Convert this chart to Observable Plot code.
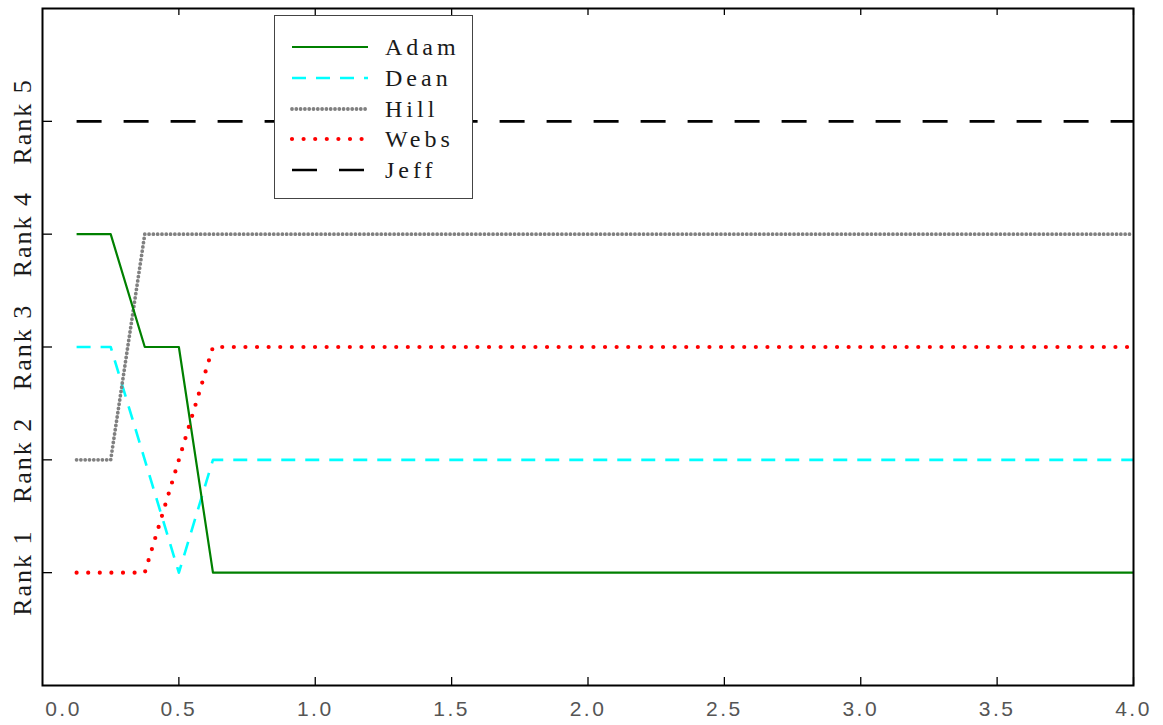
<!DOCTYPE html>
<html>
<head>
<meta charset="utf-8">
<script src="https://cdn.jsdelivr.net/npm/d3@7"></script>
<script src="https://cdn.jsdelivr.net/npm/@observablehq/plot@0.6"></script>
<style>
  html, body { margin: 0; padding: 0; background: #fff; }
  #wrap { position: relative; width: 1163px; height: 725px; }
  #wrap svg { display: block; }
  g[aria-label="x-axis tick label"] text { font-family: "Liberation Sans", "DejaVu Sans", sans-serif; font-size: 21px; letter-spacing: 2.5px; fill: #555; }
  g[aria-label="y-axis tick label"] text { font-family: "Liberation Serif", "DejaVu Serif", serif; font-size: 26px; letter-spacing: 2px; fill: #1a1a1a; }
  #legend { position: absolute; left: 274px; top: 15px; width: 199px; height: 184px; background: #fff; border: 1.5px solid #444; box-sizing: border-box; }
  #legend svg { position: absolute; left: 0; top: 0; }
  #legend text { font-family: "Liberation Serif", "DejaVu Serif", serif; font-size: 24px; letter-spacing: 4px; fill: #1a1a1a; }
</style>
</head>
<body>
<div id="wrap"></div>
<script>
// Data
const xs = [0.125, 0.25, 0.375, 0.5, 0.625, 4.0];
const names = ["Adam", "Dean", "Hill", "Webs", "Jeff"];
const adam = [4, 4, 3, 3, 1, 1];
const dean = [3, 3, 2, 1, 2, 2];
const hill = [2, 2, 4, 4, 4, 4];
const webs = [1, 1, 1, 2, 3, 3];
const jeff = [5, 5, 5, 5, 5, 5];
const xTicks = [0.5, 1.0, 1.5, 2.0, 2.5, 3.0, 3.5, 4.0];
const yTicks = [1, 2, 3, 4, 5];

const seriesValues = {Adam: adam, Dean: dean, Hill: hill, Webs: webs, Jeff: jeff};
const styles = {
  Adam: {stroke: "#008000", strokeWidth: 2.2, strokeDasharray: null, strokeLinecap: "butt"},
  Dean: {stroke: "#00ffff", strokeWidth: 2.6, strokeDasharray: "14,10", strokeLinecap: "butt"},
  Hill: {stroke: "#808080", strokeWidth: 3.8, strokeDasharray: "0,4.3", strokeLinecap: "round"},
  Webs: {stroke: "#ff0000", strokeWidth: 4.2, strokeDasharray: "0,11.6", strokeLinecap: "round"},
  Jeff: {stroke: "#000000", strokeWidth: 2.6, strokeDasharray: "25,22", strokeLinecap: "butt"}
};

const rows = names.flatMap(n => xs.map((x, i) => ({name: n, x, rank: seriesValues[n][i]})));

const drawOrder = ["Dean", "Hill", "Adam", "Webs", "Jeff"];

const W = 1163, H = 725, mL = 42, mR = 30, mT = 8, mB = 40;
const innerH = H - mT - mB, innerW = W - mL - mR;

const chart = Plot.plot({
  width: W,
  height: H,
  marginLeft: mL,
  marginRight: mR,
  marginTop: mT,
  marginBottom: mB,
  x: {domain: [0, 4]},
  y: {domain: [0, 6]},
  marks: [
    ...drawOrder.map(n => Plot.line(rows.filter(d => d.name === n), {
      x: "x", y: "rank",
      stroke: styles[n].stroke,
      strokeWidth: styles[n].strokeWidth,
      strokeDasharray: styles[n].strokeDasharray,
      strokeLinecap: styles[n].strokeLinecap,
      curve: "linear"
    })),
    Plot.frame({stroke: "black", strokeWidth: 2}),
    // inward ticks
    Plot.tickX(xTicks, {x: d => d, insetTop: innerH - 8, stroke: "black", strokeWidth: 1.3}),
    Plot.tickX(xTicks, {x: d => d, insetBottom: innerH - 7, stroke: "black", strokeWidth: 1.3}),
    Plot.tickY(yTicks, {y: d => d, insetRight: innerW - 10, stroke: "black", strokeWidth: 1.3}),
    // tick labels
    Plot.axisX({anchor: "bottom", ticks: xTicks, tickSize: 0, tickPadding: 15.5, tickFormat: d3.format(".1f"), label: null}),
    Plot.axisX({anchor: "bottom", ticks: [0], tickSize: 0, tickPadding: 15.5, dx: 21, tickFormat: d3.format(".1f"), label: null}),
    Plot.axisY({anchor: "left", ticks: yTicks, tickSize: 0, tickPadding: 20, rotate: -90, textAnchor: "middle", tickFormat: d => "Rank " + d, label: null})
  ]
});

const wrap = document.getElementById("wrap");
wrap.appendChild(chart);

// Legend
const legend = document.createElement("div");
legend.id = "legend";
const ns = "http://www.w3.org/2000/svg";
const lsvg = document.createElementNS(ns, "svg");
lsvg.setAttribute("width", 199);
lsvg.setAttribute("height", 184);
const rowY = [31, 62, 93, 123, 154];
names.forEach((n, i) => {
  const s = styles[n];
  const ln = document.createElementNS(ns, "line");
  ln.setAttribute("x1", 17); ln.setAttribute("x2", 93);
  ln.setAttribute("y1", rowY[i]); ln.setAttribute("y2", rowY[i]);
  ln.setAttribute("stroke", s.stroke);
  ln.setAttribute("stroke-width", s.strokeWidth);
  if (s.strokeDasharray) ln.setAttribute("stroke-dasharray", s.strokeDasharray);
  ln.setAttribute("stroke-linecap", s.strokeLinecap);
  lsvg.appendChild(ln);
  const t = document.createElementNS(ns, "text");
  t.setAttribute("x", 110);
  t.setAttribute("y", rowY[i] + 8);
  t.textContent = n;
  lsvg.appendChild(t);
});
legend.appendChild(lsvg);
wrap.appendChild(legend);
</script>
</body>
</html>
